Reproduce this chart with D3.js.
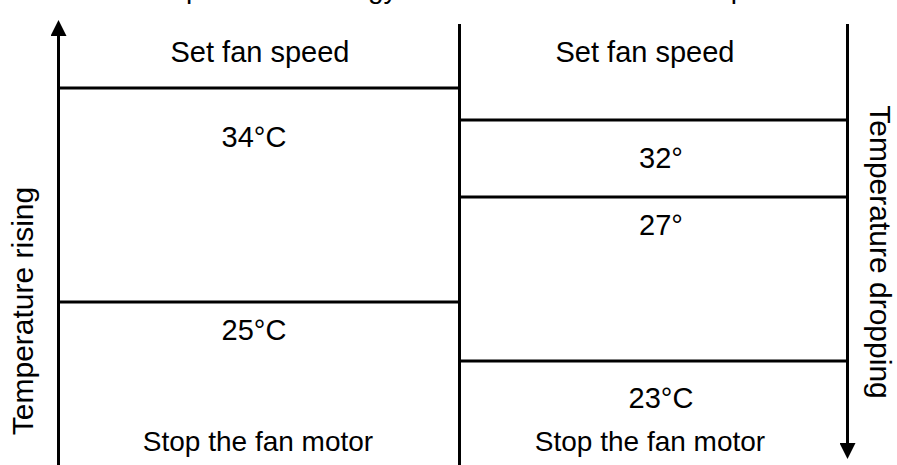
<!DOCTYPE html>
<html><head><meta charset="utf-8">
<script src="https://cdn.jsdelivr.net/npm/d3@7"></script>
<style>html,body{margin:0;padding:0;background:#fff;overflow:hidden}</style>
</head><body>
<svg id="c" width="897" height="465"></svg>
<script>
// ---- data ----
const title = "Temperature strategy for a fan at its rise and drop";
const risingLabel = "Temperature rising";
const droppingLabel = "Temperature dropping";
const topLabel = "Set fan speed";
const bottomLabel = "Stop the fan motor";
const risingTemps = [34, 25];
const risingTempLabels = ["34°C", "25°C"];
const droppingTemps = [32, 27, 23];
const droppingTempLabels = ["32°", "27°", "23°C"];

// ---- layout ----
const W = 897, H = 465;
const xLeft = 58.5, xMid = 459.5, xRight = 847.5;
const font = "Liberation Sans, Arial, sans-serif";
const svg = d3.select("#c");

const yRise = d3.scaleLinear().domain(risingTemps).range([88, 302]);
const yDrop = d3.scaleLinear().domain(droppingTemps).range([120, 197, 361]);
const riseLabelOff = [49, 28];
const dropLabelOff = [38, 28, 37];

svg.append("defs").html(`
<marker id="ah" viewBox="0 0 16 16" refX="8" refY="8" markerWidth="16" markerHeight="16" markerUnits="userSpaceOnUse" orient="auto">
<path d="M0,0 L16,8 L0,16 Z" fill="#000"/></marker>`);

// title (clipped at top)
svg.append("text").attr("x", 133).attr("y", -2).attr("text-anchor", "start")
  .attr("font-family", font).attr("font-size", 28).text(title);

// vertical lines
svg.append("line").attr("x1", xLeft).attr("x2", xLeft).attr("y1", H).attr("y2", 28)
  .attr("stroke", "#000").attr("stroke-width", 3).attr("marker-end", "url(#ah)");
svg.append("line").attr("x1", xMid).attr("x2", xMid).attr("y1", 24).attr("y2", H)
  .attr("stroke", "#000").attr("stroke-width", 3);
svg.append("line").attr("x1", xRight).attr("x2", xRight).attr("y1", 24).attr("y2", H - 14)
  .attr("stroke", "#000").attr("stroke-width", 3).attr("marker-end", "url(#ah)");

// horizontal thresholds
svg.selectAll(".hr").data(risingTemps).join("line")
  .attr("x1", xLeft).attr("x2", xMid).attr("y1", d => yRise(d)).attr("y2", d => yRise(d))
  .attr("stroke", "#000").attr("stroke-width", 3);
svg.selectAll(".hd").data(droppingTemps).join("line")
  .attr("x1", xMid).attr("x2", xRight).attr("y1", d => yDrop(d)).attr("y2", d => yDrop(d))
  .attr("stroke", "#000").attr("stroke-width", 3);

const txt = (x, y, s, fs) => svg.append("text").attr("x", x).attr("y", y)
  .attr("text-anchor", "middle").attr("dominant-baseline", "central")
  .attr("font-family", font).attr("font-size", fs).attr("fill", "#000").text(s);

risingTemps.forEach((d, i) => txt(254, yRise(d) + riseLabelOff[i], risingTempLabels[i], 29));
droppingTemps.forEach((d, i) => txt(661, yDrop(d) + dropLabelOff[i], droppingTempLabels[i], 29));

txt(260, 52, topLabel, 29);
txt(645, 52, topLabel, 29);
txt(258, 441, bottomLabel, 28);
txt(650, 441, bottomLabel, 28);

svg.append("text").attr("transform", "translate(22,311) rotate(-90)")
  .attr("text-anchor", "middle").attr("dominant-baseline", "central")
  .attr("font-family", font).attr("font-size", 30).text(risingLabel);
svg.append("text").attr("transform", "translate(880,252) rotate(90)")
  .attr("text-anchor", "middle").attr("dominant-baseline", "central")
  .attr("font-family", font).attr("font-size", 30).text(droppingLabel);
</script>
</body></html>
